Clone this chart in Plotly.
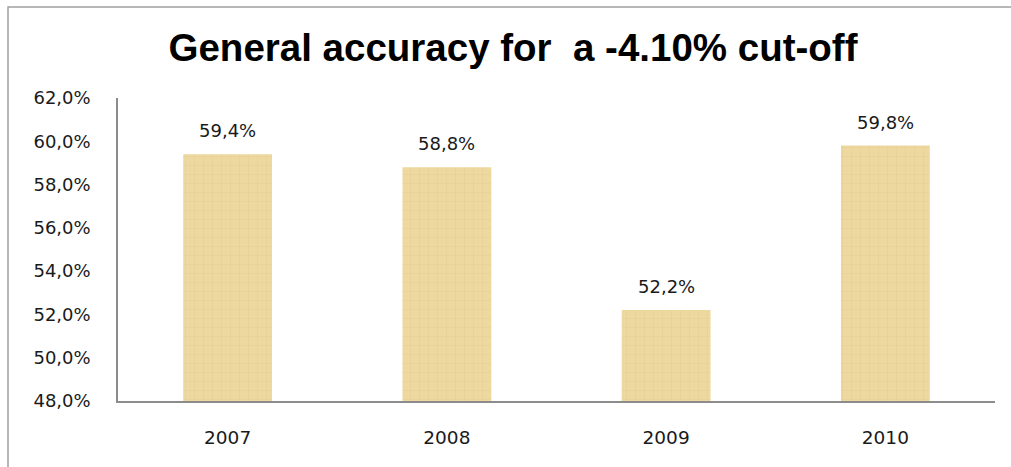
import plotly.graph_objects as go

years = ["2007", "2008", "2009", "2010"]
accuracy = [59.4, 58.8, 52.2, 59.8]
tick_vals = [48, 50, 52, 54, 56, 58, 60, 62]
tick_text = ["48,0%", "50,0%", "52,0%", "54,0%", "56,0%", "58,0%", "60,0%", "62,0%"]
bar_labels = ["59,4%", "58,8%", "52,2%", "59,8%"]

W, H = 1011, 467
L, R, T, B = 118, 16, 98, 66
pw, ph = W - L - R, H - T - B

def px(x):
    return (x - L) / pw

def py(y):
    return (H - B - y) / ph

fig = go.Figure()
fig.add_trace(go.Bar(
    x=years, y=accuracy, base=0,
    width=0.405,
    marker=dict(
        color="#EBD59C",
        line=dict(width=0),
        pattern=dict(shape="+", fgcolor="#D9BF80", bgcolor="#EDD8A0", size=9, solidity=0.08),
    ),
    hoverinfo="skip",
))

# category axis: annotation positions given as category index
for i, (val, lab) in enumerate(zip(accuracy, bar_labels)):
    fig.add_annotation(
        x=i, y=val, text=lab, showarrow=False,
        yanchor="bottom", yshift=11,
        font=dict(family="DejaVu Sans", size=18, color="#1a1a1a"),
    )

fig.update_layout(
    width=W, height=H,
    margin=dict(l=L, r=R, t=T, b=B),
    paper_bgcolor="white", plot_bgcolor="white",
    showlegend=False,
    title=dict(
        text="<b>General accuracy for  a -4.10% cut-off</b>",
        x=513 / W, xref="container", xanchor="center",
        y=(H - 48) / H, yanchor="middle",
        font=dict(family="Liberation Sans, Arial", size=38.5, color="black"),
    ),
    xaxis=dict(
        type="category", range=[-0.5, len(years) - 0.5],
        showline=True, linecolor="#8c8c8c", linewidth=1.5,
        ticks="", showgrid=False,
        tickfont=dict(family="DejaVu Sans", size=18.5, color="#1a1a1a"),
        ticklabelstandoff=19,
    ),
    yaxis=dict(
        range=[48, 62], tickvals=tick_vals, ticktext=tick_text,
        showline=True, linecolor="#8c8c8c", linewidth=1.5,
        ticks="", showgrid=False, zeroline=False,
        tickfont=dict(family="DejaVu Sans", size=18, color="#1a1a1a"),
        ticklabelstandoff=22,
    ),
    shapes=[
        dict(type="path", xref="paper", yref="paper",
             path=f"M {px(8)} {py(470)} L {px(8)} {py(7)} L {px(1015)} {py(7)}",
             line=dict(color="#a0a0a0", width=1.5)),
    ],
)

fig.write_html(
    "out.html",
    config={"displayModeBar": False},
    post_script="document.body.style.margin='0';document.body.style.overflow='hidden';",
)
